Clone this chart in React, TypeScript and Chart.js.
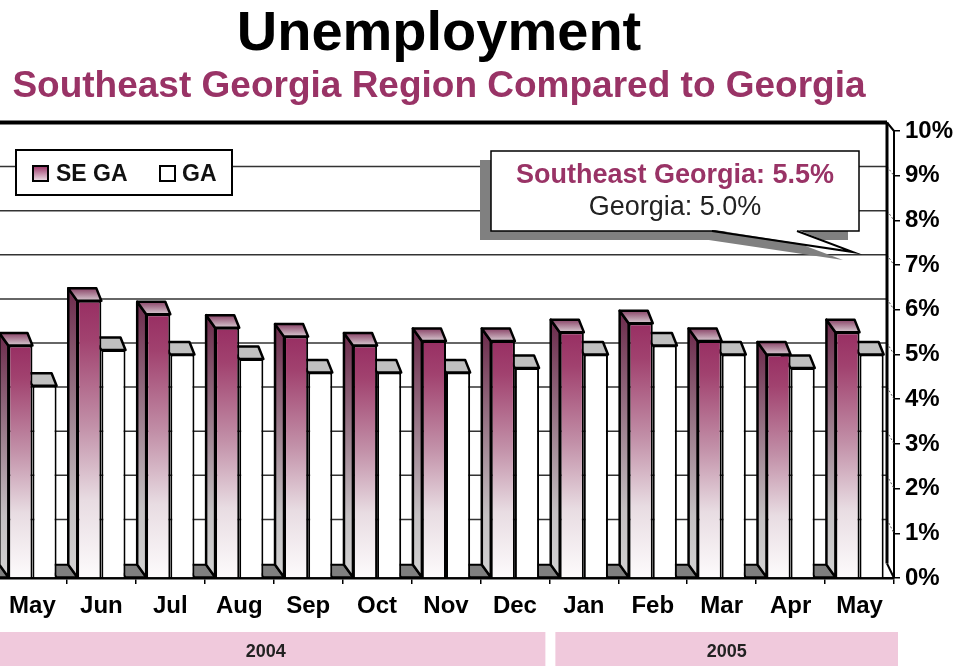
import React, { useEffect, useRef } from "react";
import { Chart, registerables } from "chart.js";

Chart.register(...registerables);

// ---------- data ----------
const months = ["May", "Jun", "Jul", "Aug", "Sep", "Oct", "Nov", "Dec", "Jan", "Feb", "Mar", "Apr", "May"];
const seGaRates = [5.2, 6.2, 5.9, 5.6, 5.4, 5.2, 5.3, 5.3, 5.5, 5.7, 5.3, 5.0, 5.5];
const gaRates = [4.3, 5.1, 5.0, 4.9, 4.6, 4.6, 4.6, 4.7, 5.0, 5.2, 5.0, 4.7, 5.0];
const seriesNames = ["SE GA", "GA"];
const yearLabels = ["2004", "2005"];
const yearFirstIndex = [0, 8];
const yearLastIndex = [7, 12];
const calloutLines = ["Southeast Georgia: 5.5%", "Georgia: 5.0%"];
const titleText = "Unemployment";
const subtitleText = "Southeast Georgia Region Compared to Georgia";

// ---------- layout constants ----------
const FONT = "'Liberation Sans', Arial, Helvetica, sans-serif";
const PLUM = "#993366";
const SHIFT = 40; // canvas is shifted left by this many px
const CANVAS_W = 1000;
const CANVAS_H = 666;
const PAD_LEFT = 38;
const PAD_TOP = 131;
const X_AXIS_H = 88;
const Y_AXIS_W = 66;
const BAR_DY = 12.5;
const BAR_DXL = 9;
const BAR_DXR = 5;
const WALL_DX = 7;
const BACK_DY0 = 14.5;
const BACK_K = 0.9866;

function seFrontGradient(ctx: CanvasRenderingContext2D, top: number, bottom: number) {
  const g = ctx.createLinearGradient(0, top, 0, bottom);
  g.addColorStop(0, "#982f63");
  g.addColorStop(0.14, "#a1426f");
  g.addColorStop(0.45, "#c290a8");
  g.addColorStop(0.72, "#e8dce2");
  g.addColorStop(1, "#fdfbfc");
  return g;
}

function poly(ctx: CanvasRenderingContext2D, pts: number[][]) {
  ctx.beginPath();
  ctx.moveTo(pts[0][0], pts[0][1]);
  for (let i = 1; i < pts.length; i++) ctx.lineTo(pts[i][0], pts[i][1]);
  ctx.closePath();
}

const threeDPlugin = {
  id: "threeD",
  beforeDatasetsDraw(chart: any) {
    const { ctx, chartArea: ca } = chart;
    const ys = chart.scales.y;
    const zeroF = ys.getPixelForValue(0);
    const backY = (v: number) => zeroF - BACK_DY0 + (ys.getPixelForValue(v) - zeroF) * BACK_K;
    const wallRight = ca.right - WALL_DX;
    const tickVals: number[] = ys.ticks.map((t: any) => t.value);
    const vMin = ys.min;
    const vMax = ys.max;

    ctx.save();
    // back wall gridlines
    ctx.strokeStyle = "#333";
    ctx.lineWidth = 1.5;
    tickVals.forEach((v) => {
      if (v <= vMin || v >= vMax) return;
      ctx.beginPath();
      ctx.moveTo(0, backY(v));
      ctx.lineTo(wallRight, backY(v));
      ctx.stroke();
    });
    // small connectors from back wall to front axis
    ctx.setLineDash([2, 2]);
    ctx.lineWidth = 1;
    ctx.strokeStyle = "#555";
    tickVals.forEach((v) => {
      if (v <= vMin || v >= vMax) return;
      ctx.beginPath();
      ctx.moveTo(wallRight, backY(v));
      ctx.lineTo(ca.right, ys.getPixelForValue(v));
      ctx.stroke();
    });
    ctx.setLineDash([]);
    // top border and right wall
    ctx.strokeStyle = "#000";
    ctx.lineWidth = 4;
    ctx.beginPath();
    ctx.moveTo(0, backY(vMax));
    ctx.lineTo(wallRight, backY(vMax));
    ctx.stroke();
    ctx.lineWidth = 3;
    ctx.beginPath();
    ctx.moveTo(wallRight, backY(vMax));
    ctx.lineTo(wallRight, backY(vMin));
    ctx.stroke();
    ctx.lineWidth = 2;
    ctx.beginPath();
    ctx.moveTo(wallRight, backY(vMax));
    ctx.lineTo(ca.right, ys.getPixelForValue(vMax));
    ctx.moveTo(wallRight, backY(vMin));
    ctx.lineTo(ca.right, zeroF);
    ctx.stroke();

    const metaSE = chart.getDatasetMeta(0);
    const metaGA = chart.getDatasetMeta(1);
    ctx.lineJoin = "round";
    for (let i = 0; i < metaSE.data.length; i++) {
      const se = metaSE.data[i].getProps(["x", "y", "base", "width"], true);
      const g = metaGA.data[i].getProps(["x", "y", "base", "width"], true);
      const seL = se.x - se.width / 2;
      const seR = se.x + se.width / 2;
      const gL = g.x - g.width / 2;
      const gR = g.x + g.width / 2;
      const base = se.base;
      let prevR = seL - 20;
      if (i > 0) {
        const pg = metaGA.data[i - 1].getProps(["x", "width"], true);
        prevR = pg.x + pg.width / 2;
      }
      // floor piece
      poly(ctx, [
        [prevR - BAR_DXL, base - BAR_DY],
        [seL - BAR_DXL, base - BAR_DY],
        [seL, base],
        [prevR, base],
      ]);
      ctx.fillStyle = "#7f7f7f";
      ctx.fill();
      ctx.strokeStyle = "#000";
      ctx.lineWidth = 2;
      ctx.stroke();

      // GA top face
      poly(ctx, [
        [gL, g.y],
        [gR, g.y],
        [gR - BAR_DXR, g.y - BAR_DY],
        [gL - BAR_DXL, g.y - BAR_DY],
      ]);
      ctx.fillStyle = "#c0c0c0";
      ctx.fill();
      ctx.lineWidth = 2.5;
      ctx.stroke();

      // SE side face
      poly(ctx, [
        [seL, se.y],
        [seL - BAR_DXL, se.y - BAR_DY],
        [seL - BAR_DXL, base - BAR_DY],
        [seL, base],
      ]);
      const sg = ctx.createLinearGradient(0, se.y - BAR_DY, 0, base);
      sg.addColorStop(0, "#6c2a4b");
      sg.addColorStop(0.4, "#9a7a8a");
      sg.addColorStop(0.75, "#c4c0c2");
      sg.addColorStop(1, "#d2d2d2");
      ctx.fillStyle = sg;
      ctx.fill();
      ctx.stroke();

      // SE top face
      poly(ctx, [
        [seL, se.y],
        [seR, se.y],
        [seR - BAR_DXR, se.y - BAR_DY],
        [seL - BAR_DXL, se.y - BAR_DY],
      ]);
      const tg = ctx.createLinearGradient(0, se.y - BAR_DY, 0, se.y);
      tg.addColorStop(0, "#8a4468");
      tg.addColorStop(1, "#d8cad1");
      ctx.fillStyle = tg;
      ctx.fill();
      ctx.stroke();
    }
    ctx.restore();
  },
  afterDraw(chart: any) {
    const { ctx } = chart;
    const xs = chart.scales.x;
    const catW = xs.getPixelForValue(1) - xs.getPixelForValue(0);
    ctx.save();
    // year bands
    yearLabels.forEach((lab, i) => {
      let x1 = xs.getPixelForValue(yearFirstIndex[i]) - catW / 2;
      let x2 = xs.getPixelForValue(yearLastIndex[i]) + catW / 2;
      x1 += i === 0 ? -12 : 6;
      x2 += i === yearLabels.length - 1 ? 4 : -4;
      ctx.fillStyle = "#f0c9dc";
      ctx.fillRect(x1, 632, x2 - x1, 40);
      ctx.fillStyle = "#222";
      ctx.font = `bold 18px ${FONT}`;
      ctx.textAlign = "center";
      ctx.textBaseline = "alphabetic";
      ctx.fillText(lab, (x1 + x2) / 2, 657);
    });

    // legend
    const lx = 16 + SHIFT;
    ctx.fillStyle = "#fff";
    ctx.fillRect(lx, 150, 216, 45);
    ctx.strokeStyle = "#000";
    ctx.lineWidth = 2;
    ctx.strokeRect(lx, 150, 216, 45);
    const sw = ctx.createLinearGradient(0, 166, 0, 182);
    sw.addColorStop(0, PLUM);
    sw.addColorStop(1, "#f4ecf0");
    ctx.fillStyle = sw;
    ctx.fillRect(33 + SHIFT, 166, 15, 15);
    ctx.strokeRect(33 + SHIFT, 166, 15, 15);
    ctx.fillStyle = "#fff";
    ctx.fillRect(160 + SHIFT, 166, 15, 15);
    ctx.strokeRect(160 + SHIFT, 166, 15, 15);
    ctx.fillStyle = "#111";
    ctx.font = `bold 23px ${FONT}`;
    ctx.textAlign = "left";
    ctx.fillText(seriesNames[0], 56 + SHIFT, 181);
    ctx.fillText(seriesNames[1], 182 + SHIFT, 181);

    // callout
    const bx = 491 + SHIFT, by = 151, bw = 368, bh = 80;
    const t1 = 712 + SHIFT, t2 = 797 + SHIFT, tipX = 853 + SHIFT, tipY = 252;
    ctx.fillStyle = "#808080";
    ctx.fillRect(bx - 11, by + 9, bw, bh);
    poly(ctx, [[t1 - 10, by + bh + 8], [t2 - 10, by + bh + 8], [tipX - 10, tipY + 8]]);
    ctx.fill();
    ctx.fillStyle = "#fff";
    ctx.fillRect(bx, by, bw, bh);
    ctx.strokeStyle = "#000";
    ctx.lineWidth = 1.5;
    ctx.strokeRect(bx, by, bw, bh);
    poly(ctx, [[t1, by + bh - 1.5], [t2, by + bh - 1.5], [tipX, tipY]]);
    ctx.fill();
    ctx.beginPath();
    ctx.moveTo(t1, by + bh);
    ctx.lineTo(tipX, tipY);
    ctx.lineTo(t2, by + bh);
    ctx.lineWidth = 2;
    ctx.stroke();
    ctx.textAlign = "center";
    ctx.fillStyle = PLUM;
    ctx.font = `bold 27px ${FONT}`;
    ctx.fillText(calloutLines[0], 675 + SHIFT, 183);
    ctx.fillStyle = "#222";
    ctx.font = `27px ${FONT}`;
    ctx.fillText(calloutLines[1], 675 + SHIFT, 215);
    ctx.restore();
  },
};

export default function App() {
  const ref = useRef<HTMLCanvasElement>(null);
  useEffect(() => {
    const canvas = ref.current!;
    Chart.defaults.font.family = FONT;
    const chart = new Chart(canvas, {
      type: "bar",
      data: {
        labels: months,
        datasets: [
          {
            label: seriesNames[0],
            data: seGaRates,
            backgroundColor: (c: any) => {
              const ch = c.chart;
              if (!ch.chartArea || c.type !== "data") return PLUM;
              const ys = ch.scales.y;
              return seFrontGradient(ch.ctx, ys.getPixelForValue(c.raw), ys.getPixelForValue(0));
            },
            borderColor: "#000",
            borderWidth: 2,
          },
          {
            label: seriesNames[1],
            data: gaRates,
            backgroundColor: "#ffffff",
            borderColor: "#000",
            borderWidth: 2,
          },
        ],
      },
      options: {
        responsive: false,
        animation: false,
        devicePixelRatio: 1,
        layout: { padding: { left: PAD_LEFT, top: PAD_TOP, right: 0, bottom: 0 } },
        datasets: { bar: { categoryPercentage: 0.7, barPercentage: 1 } },
        plugins: { legend: { display: false }, tooltip: { enabled: false }, title: { display: false } },
        scales: {
          x: {
            grid: { offset: true, drawOnChartArea: false, drawTicks: true, tickLength: 6, color: "#000", tickColor: "#000", lineWidth: 1.5 },
            border: { display: true, color: "#000", width: 2.5 },
            ticks: { color: "#000", font: { size: 24, weight: "bold" }, padding: 8, autoSkip: false, maxRotation: 0 },
            afterFit: (s: any) => {
              s.height = X_AXIS_H;
            },
          },
          y: {
            position: "right",
            min: 0,
            max: 10,
            grid: { drawOnChartArea: false, drawTicks: true, tickLength: 6, color: "#000", tickColor: "#000", lineWidth: 1.5 },
            border: { display: true, color: "#000", width: 2 },
            ticks: { stepSize: 1, color: "#000", font: { size: 24, weight: "bold" }, padding: 5, callback: (v: any) => v + "%" },
            afterFit: (s: any) => {
              s.width = Y_AXIS_W;
            },
          },
        },
      } as any,
      plugins: [threeDPlugin],
    });
    return () => chart.destroy();
  }, []);

  return (
    <div style={{ position: "fixed", left: 0, top: 0, width: 959, height: 666, overflow: "hidden", background: "#fff" }}>
      <canvas ref={ref} width={CANVAS_W} height={CANVAS_H} style={{ position: "absolute", left: -SHIFT, top: 0, width: CANVAS_W, height: CANVAS_H }} />
      <div style={{ position: "absolute", left: 0, top: 3, width: 878, textAlign: "center", font: `bold 56px/56px ${FONT}`, color: "#000" }}>
        {titleText}
      </div>
      <div style={{ position: "absolute", left: 0, top: 66, width: 878, textAlign: "center", font: `bold 37px/37px ${FONT}`, color: PLUM, whiteSpace: "nowrap" }}>
        {subtitleText}
      </div>
    </div>
  );
}
